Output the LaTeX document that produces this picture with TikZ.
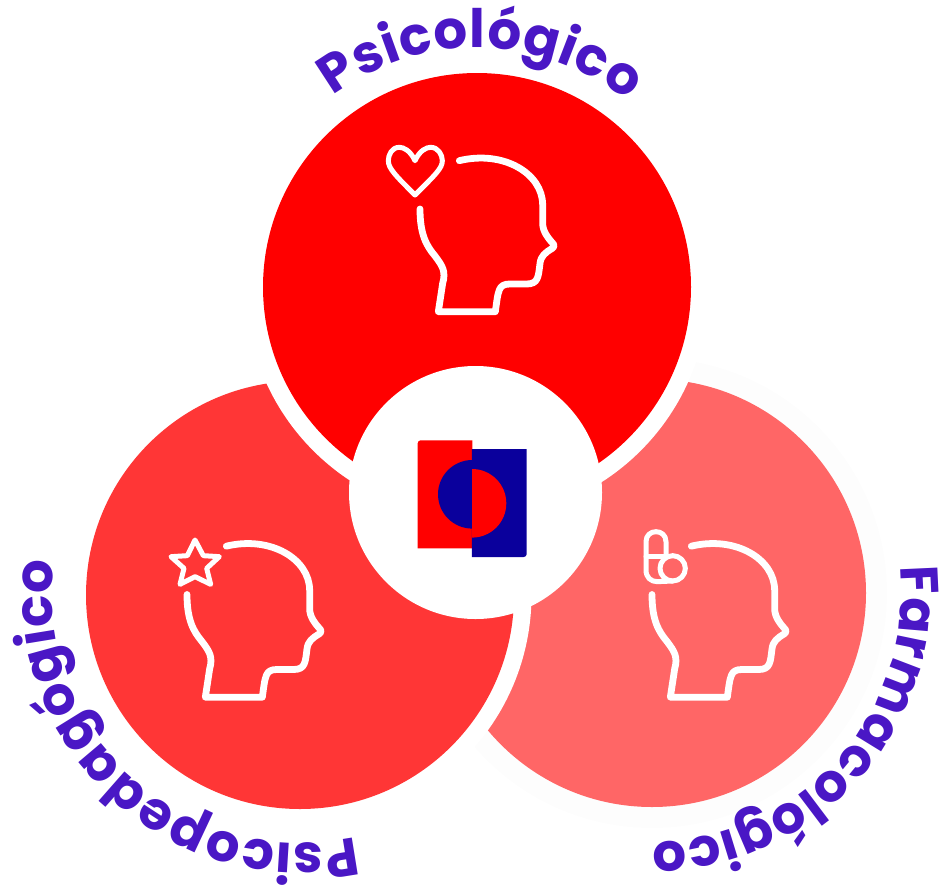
\documentclass[tikz,border=0pt]{standalone}
\usepackage{fontspec}
\usetikzlibrary{decorations.text}
\newfontfamily\labfont{Poppins}
\newcommand{\lab}{\labfont\bfseries\fontsize{53}{53}\selectfont\color{labc}}
\definecolor{labc}{HTML}{4A17C5}
\definecolor{topc}{HTML}{FF0000}
\definecolor{leftc}{HTML}{FF3636}
\definecolor{rightc}{HTML}{FF6666}
\definecolor{logoblue}{HTML}{0A009C}
\definecolor{halo}{HTML}{FDFDFD}
\tikzset{
  disc/.style={circle,inner sep=0pt,minimum size=428pt},
  ring/.style={circle,inner sep=0pt,fill=white,minimum size=463pt},
  haloring/.style={circle,inner sep=0pt,fill=halo,minimum size=470pt},
  iconline/.style={draw=white,line cap=round,line join=round,x=.33333pt,y=-.33333pt},
  head/.pic={
    \draw[iconline,line width=6.8pt]
      (268,92) .. controls (400,60) and (518,130) .. (518,225)
      -- (518,280) .. controls (518,305) and (535,325) .. (551,343)
      .. controls (554,348) and (551,352) .. (547,355)
      .. controls (525,368) and (513,378) .. (510,400)
      .. controls (505,440) and (505,462) .. (470,462)
      -- (420,462) .. controls (385,462) and (385,480) .. (376,545)
      -- (205,545) -- (218,460) .. controls (228,425) and (218,408) .. (195,378)
      .. controls (170,348) and (150,315) .. (150,237);
  },
  heart/.pic={
    \draw[iconline,line width=5pt]
      (135,92) .. controls (120,60) and (100,52) .. (88,52)
      .. controls (65,52) and (55,75) .. (55,92)
      .. controls (55,115) and (75,135) .. (135,195)
      .. controls (195,135) and (217,115) .. (217,92)
      .. controls (217,75) and (205,52) .. (182,52)
      .. controls (170,52) and (150,60) .. (135,92) -- cycle;
  },
  starshape/.pic={
    \draw[iconline,line width=5pt]
      (105,45) -- (130,92) -- (178,95) -- (140,130) -- (152,178) -- (105,155)
      -- (60,178) -- (72,130) -- (33,95) -- (82,92) -- cycle;
  },
  pill/.pic={
    \draw[iconline,line width=5pt]
      (108,105) -- (108,65) .. controls (108,25) and (48,25) .. (48,65)
      -- (48,150) .. controls (48,172) and (62,185) .. (82,185) -- (128,183);
    \draw[iconline,line width=5pt] (48,110) -- (108,110);
    \draw[iconline,line width=5pt] (128,145) circle[radius=38];
  },
  arclabel/.style={decorate,decoration={text along path,text align=fit to path,text={|\lab|#1}}},
}
\begin{document}
\begin{tikzpicture}[x=1pt,y=1pt]
\useasboundingbox (0,-886) rectangle (944,0);
% right disc
\node[haloring] (rh) at (652,-593) {};
\node[disc,fill=rightc] (rightdisc) at (652,-593) {};
% left disc
\node[ring] (lr) at (300,-595) {};
\node[disc,fill=leftc] (leftdisc) at (300,-595) {};
% top disc
\node[ring] (tr) at (477,-287) {};
\node[disc,fill=topc] (topdisc) at (477,-287) {};
% centre
\node[circle,inner sep=0pt,fill=white,minimum size=253pt] (centre) at (475.5,-492.5) {};
% logo
\fill[topc] (417.7,-548.3) -- (417.7,-443.3) arc[start angle=180,end angle=90,radius=3] -- (472.3,-440.3) -- (472.3,-548.3) -- cycle;
\fill[logoblue] (471.8,-449) -- (526.7,-449) -- (526.7,-554) arc[start angle=0,end angle=-90,radius=3] -- (471.8,-557) -- cycle;
\fill[logoblue] (472.3,-460) arc[start angle=90,end angle=270,radius=34.3] -- cycle;
\fill[topc] (472,-469) arc[start angle=90,end angle=-90,radius=34.3] -- cycle;
% icons
\pic at (370,-130) {head};
\pic at (370,-130) {heart};
\pic at (137,-515.5) {head};
\pic at (160,-525) {starshape};
\pic at (602,-515.5) {head};
\pic at (630,-520) {pill};
% labels
\path[arclabel={Psicológico}] (477,-287) ++(127:239) arc[start angle=127,end angle=51,radius=239];
\path[arclabel={Psicopedagógico}] (300,-595) ++(-77:248) arc[start angle=-77,end angle=-188,radius=248];
\path[arclabel={Farmacológico}] (652,-593) ++(6:249) arc[start angle=6,end angle=-90,radius=249];
\end{tikzpicture}
\end{document}
